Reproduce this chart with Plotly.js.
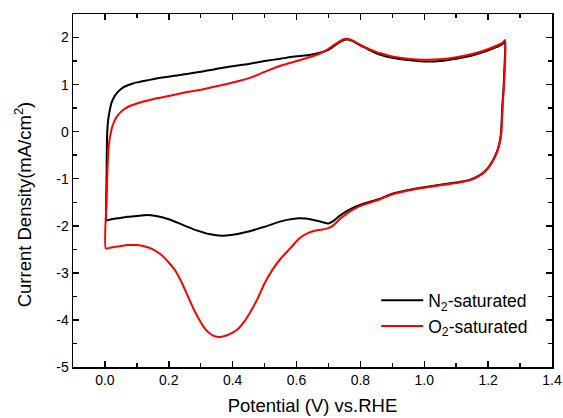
<!DOCTYPE html>
<html>
<head>
<meta charset="utf-8">
<script src="https://cdn.plot.ly/plotly-3.0.1.min.js"></script>
<style>
html,body{margin:0;padding:0;background:#fff;}
#chart{width:563px;height:418px;}
</style>
</head>
<body>
<div id="chart"></div>
<script>
// N2-saturated CV loop (anodic sweep then cathodic sweep)
var n2Potential = [0.003,0.005,0.007,0.01,0.015,0.02,0.03,0.04,0.055,0.07,0.09,0.11,0.14,0.18,0.23,0.29,0.33,0.37,0.41,0.45,0.5,0.55,0.6,0.64,0.67,0.69,0.71,0.73,0.75,0.76,0.775,0.79,0.81,0.83,0.86,0.9,0.95,1.0,1.05,1.1,1.15,1.19,1.22,1.245,1.253,
  1.252,1.248,1.245,1.24,1.235,1.228,1.218,1.205,1.19,1.17,1.14,1.1,1.05,1.0,0.95,0.9,0.86,0.82,0.79,0.76,0.735,0.715,0.7,0.68,0.65,0.61,0.56,0.5,0.45,0.4,0.365,0.33,0.28,0.24,0.2,0.16,0.13,0.1,0.07,0.04,0.02,0.003];
var n2Current = [-1.88,-1.0,-0.04,0.24,0.45,0.6,0.75,0.84,0.93,0.98,1.03,1.06,1.1,1.15,1.2,1.26,1.31,1.36,1.4,1.44,1.5,1.55,1.6,1.63,1.67,1.71,1.78,1.88,1.95,1.96,1.93,1.87,1.8,1.73,1.64,1.57,1.52,1.49,1.5,1.55,1.62,1.7,1.78,1.86,1.92,
  1.5,0.9,0.6,-0.05,-0.25,-0.42,-0.57,-0.72,-0.84,-0.94,-1.03,-1.08,-1.13,-1.18,-1.24,-1.32,-1.43,-1.51,-1.58,-1.68,-1.79,-1.9,-1.95,-1.92,-1.87,-1.84,-1.89,-2.02,-2.12,-2.19,-2.21,-2.18,-2.08,-1.97,-1.86,-1.79,-1.77,-1.79,-1.81,-1.84,-1.86,-1.89];

// O2-saturated CV loop
var o2Potential = [0.003,0.005,0.008,0.012,0.02,0.028,0.036,0.05,0.0625,0.08,0.11,0.15,0.2,0.25,0.3,0.36,0.41,0.46,0.5,0.55,0.6,0.64,0.67,0.69,0.71,0.73,0.75,0.76,0.775,0.79,0.81,0.83,0.86,0.9,0.95,1.0,1.05,1.1,1.15,1.19,1.22,1.245,1.253,
  1.253,1.249,1.246,1.241,1.236,1.229,1.219,1.206,1.19,1.17,1.14,1.1,1.05,1.0,0.95,0.9,0.86,0.82,0.79,0.76,0.735,0.715,0.7,0.68,0.66,0.64,0.61,0.58,0.55,0.526,0.5,0.48,0.46,0.44,0.42,0.4,0.38,0.36,0.345,0.333,0.315,0.302,0.28,0.26,0.24,0.219,0.2,0.177,0.15,0.125,0.1,0.073,0.04,0.02,0.003];
var o2Current = [-2.48,-1.5,-0.8,-0.3,0.03,0.2,0.31,0.42,0.49,0.55,0.62,0.69,0.76,0.83,0.89,0.98,1.06,1.16,1.27,1.4,1.5,1.58,1.65,1.72,1.81,1.9,1.97,1.97,1.94,1.88,1.81,1.75,1.67,1.6,1.55,1.53,1.54,1.58,1.65,1.73,1.81,1.89,1.95,
  1.5,0.9,0.6,-0.05,-0.25,-0.42,-0.57,-0.72,-0.85,-0.95,-1.04,-1.09,-1.14,-1.19,-1.25,-1.33,-1.44,-1.53,-1.61,-1.73,-1.86,-1.99,-2.05,-2.08,-2.1,-2.14,-2.26,-2.48,-2.7,-2.92,-3.22,-3.52,-3.78,-4.0,-4.17,-4.27,-4.33,-4.36,-4.35,-4.31,-4.2,-4.07,-3.8,-3.5,-3.2,-2.94,-2.78,-2.62,-2.5,-2.44,-2.41,-2.41,-2.44,-2.46,-2.48];

var seriesNames = ['N<sub>2</sub>-saturated','O<sub>2</sub>-saturated'];
var xTickVals = [0,0.2,0.4,0.6,0.8,1.0,1.2,1.4];
var xTickText = ['0.0','0.2','0.4','0.6','0.8','1.0','1.2','1.4'];
var yTickVals = [-5,-4,-3,-2,-1,0,1,2];
var yTickText = ['-5','-4','-3','-2','-1','0','1','2'];
var xTitle = 'Potential (V) vs.RHE';
var yTitle = 'Current Density(mA/cm<sup>2</sup>)';

var FONT = 'Liberation Sans, Arial, sans-serif';

var traces = [
  {x:n2Potential, y:n2Current, name:seriesNames[0], mode:'lines', type:'scatter',
   line:{color:'#000000', width:2, shape:'spline', smoothing:0.6}},
  {x:o2Potential, y:o2Current, name:seriesNames[1], mode:'lines', type:'scatter',
   line:{color:'#ff0000', width:2, shape:'spline', smoothing:0.6}}
];

var axisCommon = {
  showline:true, linecolor:'#000', linewidth:1.5, mirror:'ticks',
  ticks:'inside', ticklen:6, tickwidth:1.5, tickcolor:'#000',
  showgrid:false, zeroline:false, tickmode:'array',
  tickfont:{family:FONT, size:14, color:'#000'}
};

var layout = {
  width:563, height:418,
  margin:{l:73, r:11, t:14, b:51},
  paper_bgcolor:'#fff', plot_bgcolor:'#fff',
  font:{family:FONT, color:'#000'},
  showlegend:true,
  legend:{x:0.633, y:0.24, xanchor:'left', yanchor:'top', itemwidth:42, tracegroupgap:0,
    bgcolor:'rgba(0,0,0,0)', font:{family:FONT, size:17.5, color:'#000'}},
  xaxis:Object.assign({}, axisCommon, {
    range:[-0.1,1.4], tickvals:xTickVals, ticktext:xTickText,
    minor:{tickmode:'linear', tick0:0, dtick:0.1, ticks:'inside', ticklen:4, tickwidth:1.5, tickcolor:'#000'},
    title:{text:xTitle, font:{family:FONT, size:18.5, color:'#000'}, standoff:12}
  }),
  yaxis:Object.assign({}, axisCommon, {
    range:[-5,2.5], tickvals:yTickVals, ticktext:yTickText,
    minor:{tickmode:'linear', tick0:0, dtick:0.5, ticks:'inside', ticklen:4, tickwidth:1.5, tickcolor:'#000'},
    title:{text:''}
  }),
  annotations:[{
    text:yTitle, xref:'paper', yref:'paper', x:-0.105, y:0.46, xanchor:'center', yanchor:'middle',
    textangle:-90, showarrow:false, font:{family:FONT, size:18.5, color:'#000'}
  }]
};

Plotly.newPlot('chart', traces, layout, {displayModeBar:false, staticPlot:true});
</script>
</body>
</html>
